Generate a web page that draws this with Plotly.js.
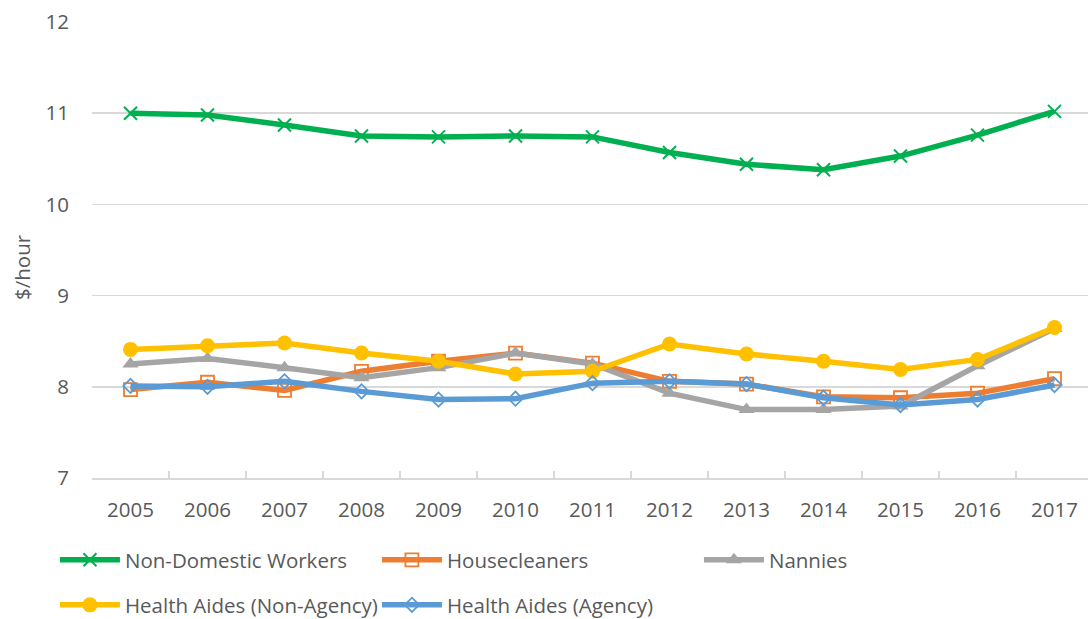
<!DOCTYPE html>
<html>
<head>
<meta charset="utf-8">
<script src="https://cdn.plot.ly/plotly-3.0.1.min.js"></script>
<style>html,body{margin:0;padding:0;background:#fff;}#chart{width:1088px;height:619px;}</style>
</head>
<body>
<div id="chart"></div>
<script>
const years = ['2005','2006','2007','2008','2009','2010','2011','2012','2013','2014','2015','2016','2017'];
const nonDomestic = [11.00, 10.98, 10.87, 10.75, 10.74, 10.75, 10.74, 10.57, 10.44, 10.38, 10.53, 10.76, 11.02];
const housecleaners = [7.97, 8.05, 7.96, 8.17, 8.28, 8.37, 8.26, 8.06, 8.03, 7.89, 7.88, 7.93, 8.09];
const nannies = [8.25, 8.31, 8.21, 8.10, 8.21, 8.37, 8.25, 7.93, 7.75, 7.75, 7.79, 8.23, 8.64];
const aidesNonAgency = [8.41, 8.45, 8.48, 8.37, 8.28, 8.14, 8.17, 8.47, 8.36, 8.28, 8.19, 8.30, 8.65];
const aidesAgency = [8.01, 8.00, 8.06, 7.95, 7.86, 7.87, 8.04, 8.06, 8.03, 7.88, 7.80, 7.86, 8.02];

const FONT = 'Open Sans, Liberation Sans, sans-serif';
const TXT = '#595959';
const FS = 20.5;

function tr(name, y, color, symbol, size, lw, legend){
  return {
    type:'scatter', mode:'lines+markers', name:name, x:years, y:y,
    line:{color:color, width:5.5},
    marker:{symbol:symbol, size:size, color:color, line:{color:color, width:lw}},
    legend:legend, cliponaxis:false
  };
}

const data = [
  tr('Non-Domestic Workers', nonDomestic, '#00b050', 'x-thin-open', 13, 2, 'legend'),
  tr('Housecleaners', housecleaners, '#ed7d31', 'square-open', 13, 1.8, 'legend'),
  tr('Nannies', nannies, '#a5a5a5', 'triangle-up', 14, 0, 'legend'),
  tr('Health Aides (Non-Agency)', aidesNonAgency, '#ffc000', 'circle', 15, 0, 'legend2'),
  tr('Health Aides (Agency)', aidesAgency, '#5b9bd5', 'diamond-open', 11, 1.8, 'legend2')
];

const legendBase = {
  orientation:'h', xref:'container', yref:'container', x:0.0505, xanchor:'left', yanchor:'middle',
  font:{family:FONT, size:FS, color:TXT}, itemwidth:60, entrywidth:247, entrywidthmode:'pixels',
  bgcolor:'rgba(0,0,0,0)', traceorder:'normal', itemclick:false
};

const layout = {
  width:1088, height:619,
  margin:{l:92, r:0, t:22, b:141},
  paper_bgcolor:'#fff', plot_bgcolor:'#fff',
  font:{family:FONT, size:FS, color:TXT},
  showlegend:true,
  legend:Object.assign({}, legendBase, {y:1-560/619}),
  legend2:Object.assign({}, legendBase, {y:1-605/619}),
  xaxis:{
    type:'category', range:[-0.5, 12.435], showgrid:false,
    showline:true, linecolor:'#d9d9d9', linewidth:1.5,
    ticks:'inside', tickson:'boundaries', ticklen:7, tickcolor:'#d9d9d9', tickwidth:1.5,
    tickfont:{family:FONT, size:FS, color:TXT}, ticklabelstandoff:13, fixedrange:true
  },
  yaxis:{
    range:[7,12], tickvals:[7,8,9,10,11,12], showgrid:true, gridcolor:'#d9d9d9', gridwidth:1.5,
    zeroline:false, showline:false, ticks:'',
    tickfont:{family:FONT, size:FS, color:TXT}, ticklabelstandoff:22, fixedrange:true
  },
  annotations:[{
    text:'$/hour', xref:'paper', yref:'paper', x:(22-92)/996, y:(478-267)/456,
    xanchor:'center', yanchor:'middle', textangle:-90, showarrow:false,
    font:{family:FONT, size:FS, color:TXT}
  }]
};

Plotly.newPlot('chart', data, layout, {displayModeBar:false, staticPlot:true});
</script>
</body>
</html>
